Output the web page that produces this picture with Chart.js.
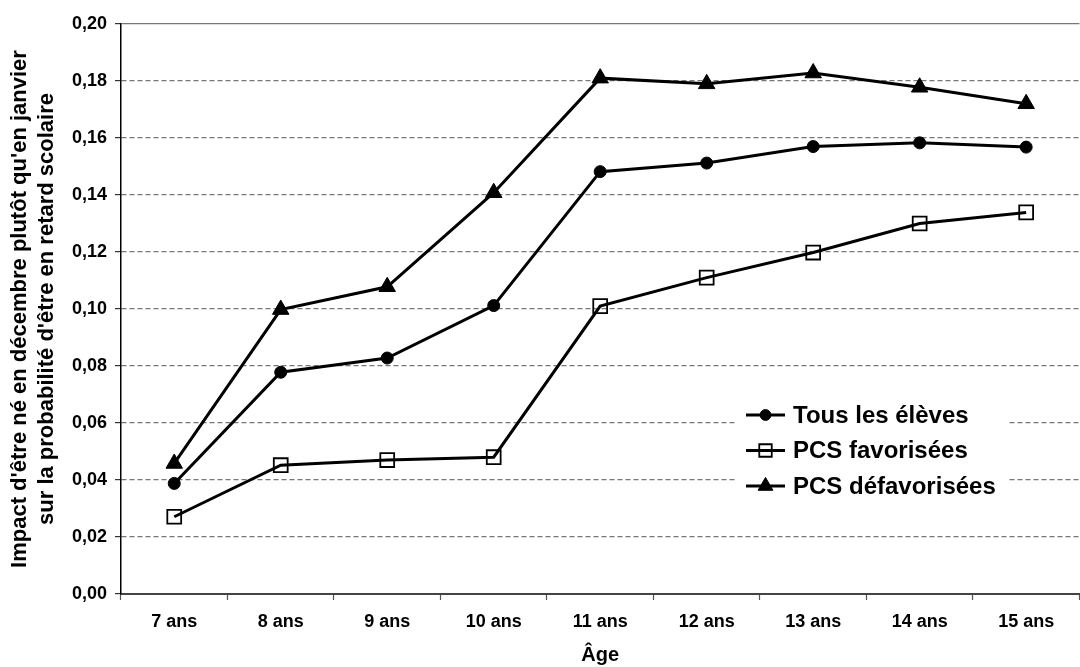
<!DOCTYPE html>
<html>
<head>
<meta charset="utf-8">
<script src="https://cdn.jsdelivr.net/npm/chart.js@4/dist/chart.umd.min.js"></script>
<style>
  html, body { margin: 0; padding: 0; background: #fff; overflow: hidden; }
  #wrap { width: 1091px; height: 667px; position: relative; }
</style>
</head>
<body>
<div id="wrap"><canvas id="myChart"></canvas></div>
<script>
// categories and values
var ages = ['7 ans', '8 ans', '9 ans', '10 ans', '11 ans', '12 ans', '13 ans', '14 ans', '15 ans'];
var tous = [0.0388, 0.0778, 0.0828, 0.1012, 0.1482, 0.1512, 0.1570, 0.1583, 0.1568];
var favorisees = [0.0271, 0.0452, 0.0470, 0.0480, 0.1010, 0.1110, 0.1198, 0.1300, 0.1339];
var defavorisees = [0.0458, 0.0998, 0.1078, 0.1408, 0.1810, 0.1790, 0.1828, 0.1778, 0.1720];
var seriesNames = ['Tous les élèves', 'PCS favorisées', 'PCS défavorisées'];
var yTitle = ["Impact d'être né en décembre plutôt qu'en janvier", "sur la probabilité d'être en retard scolaire"];
var xTitle = 'Âge';

var FONT = 'Arial, "Liberation Sans", sans-serif';

function drawMarker(ctx, style, r, x, y) {
    if (Chart.helpers && Chart.helpers.drawPoint) {
        Chart.helpers.drawPoint(ctx, { pointStyle: style, radius: r, rotation: 0, borderWidth: ctx.lineWidth }, x, y);
    }
}

// legend inside the plot: line + marker + label
var lineLegend = {
    id: 'lineLegend',
    afterDatasetsDraw: function(chart) {
        var ctx = chart.ctx;
        var x0 = 737, y0 = 396;
        ctx.save();
        ctx.fillStyle = '#fff';
        ctx.fillRect(x0, y0, 272, 106);
        chart.data.datasets.forEach(function(ds, k) {
            var cy = 415 + k * 35.5;
            ctx.strokeStyle = '#000';
            ctx.lineWidth = 3;
            ctx.beginPath();
            ctx.moveTo(746, cy);
            ctx.lineTo(785, cy);
            ctx.stroke();
            ctx.lineWidth = ds.pointBorderWidth;
            ctx.fillStyle = ds.pointBackgroundColor;
            ctx.strokeStyle = ds.pointBorderColor;
            drawMarker(ctx, ds.pointStyle, ds.pointRadius * 0.9, 765.5, cy);
            ctx.fillStyle = '#000';
            ctx.font = 'bold 24px ' + FONT;
            ctx.textBaseline = 'middle';
            ctx.textAlign = 'left';
            ctx.fillText(ds.label, 793, cy + 1);
        });
        ctx.restore();
    }
};

var common = {
    borderColor: '#000',
    borderWidth: 3,
    pointBorderColor: '#000',
    tension: 0,
    fill: false
};

var ctx = document.getElementById('myChart').getContext('2d');
var chart = new Chart(ctx, {
    type: 'line',
    data: {
        labels: ages,
        datasets: [
            Object.assign({}, common, {
                label: seriesNames[0], data: tous,
                pointStyle: 'circle', pointRadius: 6, pointBorderWidth: 1,
                pointBackgroundColor: '#000'
            }),
            Object.assign({}, common, {
                label: seriesNames[1], data: favorisees,
                pointStyle: 'rect', pointRadius: 9.8, pointBorderWidth: 1.8,
                pointBackgroundColor: 'rgba(0,0,0,0)'
            }),
            Object.assign({}, common, {
                label: seriesNames[2], data: defavorisees,
                pointStyle: 'triangle', pointRadius: 9.5, pointBorderWidth: 1,
                pointBackgroundColor: '#000'
            })
        ]
    },
    options: {
        responsive: true,
        maintainAspectRatio: false,
        animation: false,
        devicePixelRatio: 1,
        layout: { padding: { top: 24, right: 0, bottom: 0, left: 0 } },
        plugins: {
            legend: { display: false },
            tooltip: { enabled: false }
        },
        scales: {
            x: {
                offset: true,
                afterFit: function(s) { s.height = 73; },
                grid: { offset: true, drawOnChartArea: false, tickLength: 6, tickColor: '#555', tickWidth: 1.2 },
                border: { color: '#444', width: 2 },
                ticks: { color: '#000', padding: 11, font: { family: FONT, size: 18, weight: 'bold' } },
                title: { display: true, text: xTitle, color: '#000', padding: { top: 0, bottom: 0 },
                         font: { family: FONT, size: 20, weight: 'bold' } }
            },
            y: {
                min: 0,
                max: 0.2,
                afterFit: function(s) { s.width = 121; },
                grid: {
                    tickLength: 6,
                    tickColor: '#333',
                    lineWidth: 1.2,
                    color: function(c) { return c.tick && c.tick.value === 0 ? 'rgba(0,0,0,0)' : '#777'; }
                },
                border: {
                    color: '#000', width: 1.5,
                    dash: function(c) { return c.tick && c.tick.value >= 0.2 ? [] : [5, 3]; }
                },
                ticks: {
                    stepSize: 0.02,
                    padding: 8,
                    color: '#000',
                    font: { family: FONT, size: 18, weight: 'bold' },
                    callback: function(v) { return v.toFixed(2).replace('.', ','); }
                },
                title: { display: true, text: yTitle, color: '#000', padding: { top: 7, bottom: 0 },
                         font: { family: FONT, size: 22, weight: 'bold', lineHeight: 1.22 } }
            }
        }
    },
    plugins: [lineLegend]
});
</script>
</body>
</html>
